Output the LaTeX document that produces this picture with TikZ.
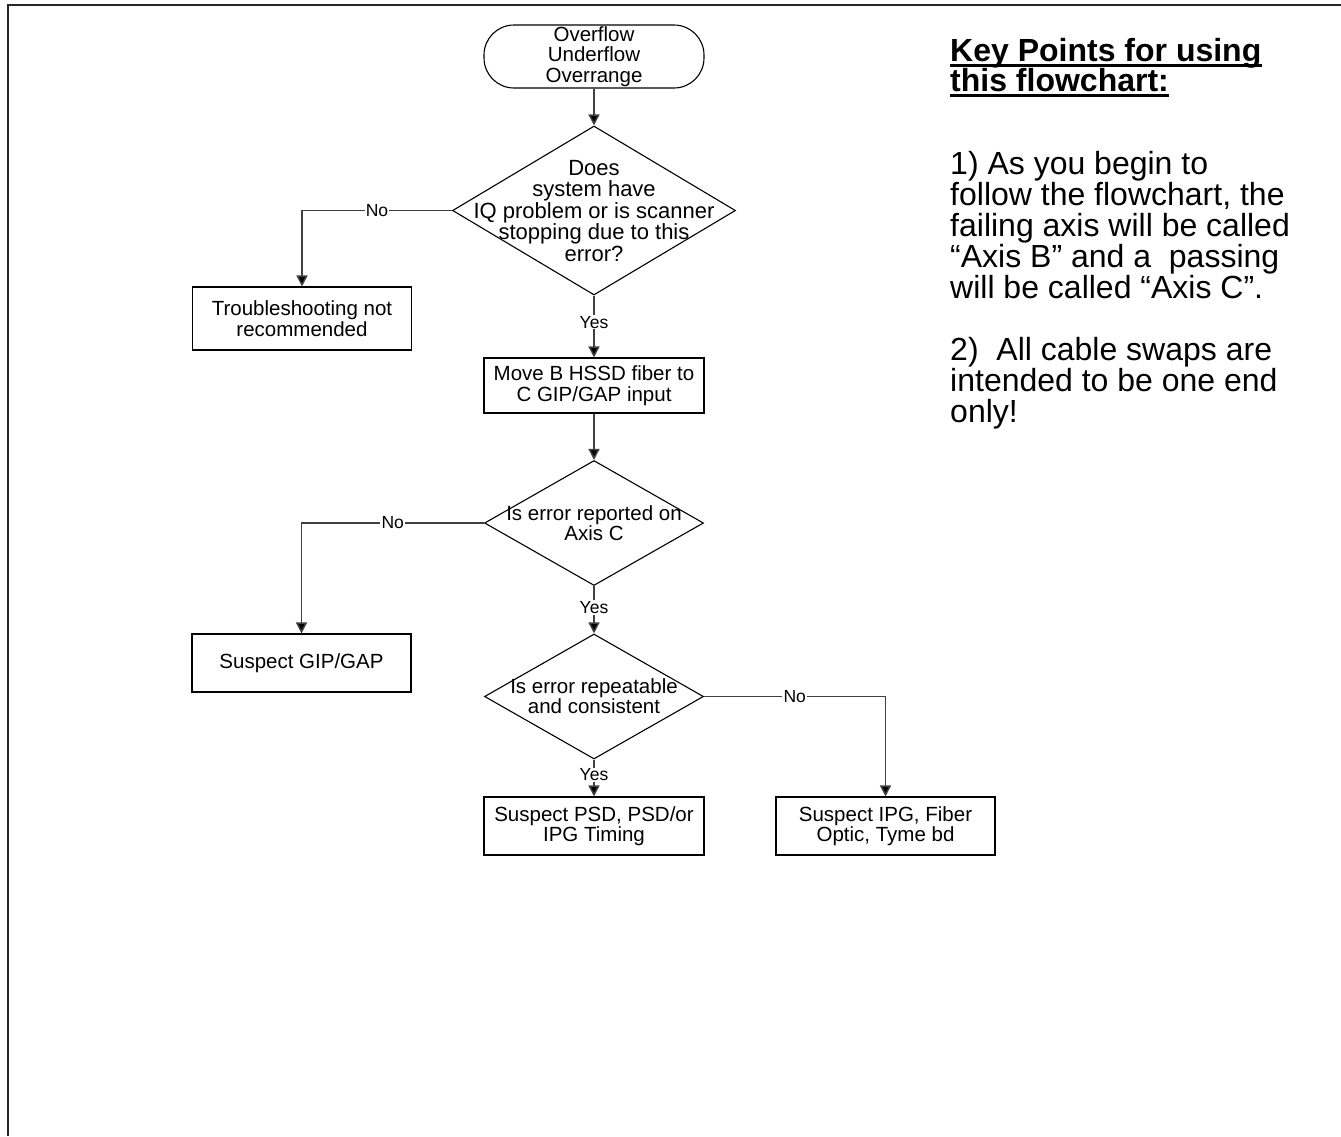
\documentclass[tikz,border=0pt]{standalone}
\usepackage{fontspec}
\setmainfont{Liberation Sans}
\usetikzlibrary{arrows.meta,shapes.geometric}
\begin{document}
\begin{tikzpicture}[x=1pt,y=-1pt,
  ftxt/.style={font=\fontsize{20.5}{20.5}\selectfont, align=center},
  boxn/.style={draw=black, line width=1.1pt, rectangle, inner sep=0pt, ftxt},
  dia/.style={draw=black, line width=1.1pt, diamond, inner sep=0pt},
  term/.style={draw=black, line width=1.1pt, rectangle, rounded corners=30pt, inner sep=0pt, ftxt},
  conn/.style={draw=black!75, line width=1.5pt, -{Triangle[length=11pt,width=11pt,fill=black]}},
  lbl/.style={fill=white, inner sep=1.2pt, text=black, font=\fontsize{17.5}{17.5}\selectfont},
  keyh/.style={anchor=base west, inner sep=0pt, font=\fontsize{32}{31}\bfseries\selectfont},
  keyt/.style={anchor=base west, inner sep=0pt, font=\fontsize{32}{31}\selectfont}
]
\useasboundingbox (0,0) rectangle (1341,1136);
\draw[line width=2pt, black!85] (7.5,1136) -- (7.5,4.5) -- (1341,4.5);

% flowchart shapes
\node[term, minimum width=220pt, minimum height=63pt] (start) at (594,56.5) {Overflow\\Underflow\\Overrange};

\node[dia, minimum width=283pt, minimum height=169pt] (d1) at (594,210.5) {};
\node[ftxt, font=\fontsize{22}{21.5}\selectfont, inner sep=0pt] (d1t) at (594,211) {Does\\system have\\IQ problem or is scanner\\stopping due to this\\error?};

\node[boxn, minimum width=219pt, minimum height=63pt] (t1) at (302,318.5) {Troubleshooting not\\recommended};
\node[boxn, minimum width=220pt, minimum height=55pt] (m1) at (594,385.5) {Move B HSSD fiber to\\C GIP/GAP input};

\node[dia, minimum width=219pt, minimum height=125pt] (d2) at (594,523) {};
\node[ftxt, inner sep=0pt] (d2t) at (594,523) {Is error reported on\\Axis C};

\node[boxn, minimum width=219pt, minimum height=58pt] (g1) at (301.5,663) {Suspect GIP/GAP};

\node[dia, minimum width=219pt, minimum height=125pt] (d3) at (594,696.5) {};
\node[ftxt, inner sep=0pt] (d3t) at (594,696) {Is error repeatable\\and consistent};

\node[boxn, minimum width=220pt, minimum height=58pt] (p1) at (594,826) {Suspect PSD, PSD/or\\IPG Timing};
\node[boxn, minimum width=219pt, minimum height=58pt] (i1) at (885.5,826) {Suspect IPG, Fiber\\Optic, Tyme bd};

% connectors
\draw[conn] (start.south) -- (d1.north);
\draw[conn] (d1.west) -| node[lbl, pos=0.25] {No} (t1.north);
\draw[conn] (d1.south) -- node[lbl, pos=0.43] {Yes} (m1.north);
\draw[conn] (m1.south) -- (d2.north);
\draw[conn] (d2.west) -| node[lbl, pos=0.25] {No} (g1.north);
\draw[conn] (d2.south) -- node[lbl, pos=0.45] {Yes} (d3.north);
\draw[conn] (d3.east) -| node[lbl, pos=0.25] {No} (i1.north);
\draw[conn] (d3.south) -- node[lbl, pos=0.42] {Yes} (p1.north);

% key points
\node[keyh] (h1) at (950,61) {Key Points for using};
\node[keyh] (h2) at (950,91) {this flowchart:};
\draw[line width=3pt] ([yshift=-4pt]h1.base west) -- ([yshift=-4pt]h1.base east);
\draw[line width=3pt] ([yshift=-4pt]h2.base west) -- ([yshift=-4pt]h2.base east);

\node[keyt] (k1) at (950,174) {1) As you begin to};
\node[keyt] (k2) at (950,205) {follow the flowchart, the};
\node[keyt] (k3) at (950,236) {failing axis will be called};
\node[keyt] (k4) at (950,267) {“Axis B” and a\ \ passing};
\node[keyt] (k5) at (950,298) {will be called “Axis C”.};
\node[keyt] (k6) at (950,360) {2)\ \ All cable swaps are};
\node[keyt] (k7) at (950,391) {intended to be one end};
\node[keyt] (k8) at (950,422) {only!};
\end{tikzpicture}
\end{document}
